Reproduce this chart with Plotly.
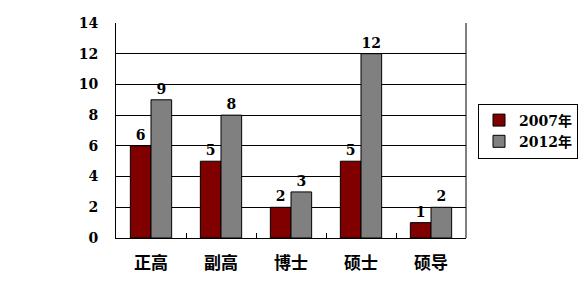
import plotly.graph_objects as go

categories = ["正高", "副高", "博士", "硕士", "硕导"]
series_2007 = [6, 5, 2, 5, 1]
series_2012 = [9, 8, 3, 12, 2]
y_ticks = [0, 2, 4, 6, 8, 10, 12, 14]

FONT = "DejaVu Serif, Noto Sans CJK SC"

fig = go.Figure()
fig.add_trace(go.Bar(
    name="2007年", x=categories, y=series_2007,
    marker=dict(color="#800000", line=dict(color="black", width=1)),
    text=series_2007, textposition="outside", cliponaxis=False,
    textfont=dict(family=FONT, size=14, color="black", weight="bold"),
))
fig.add_trace(go.Bar(
    name="2012年", x=categories, y=series_2012,
    marker=dict(color="#808080", line=dict(color="black", width=1)),
    text=series_2012, textposition="outside", cliponaxis=False,
    textfont=dict(family=FONT, size=14, color="black", weight="bold"),
))

fig.update_layout(
    width=586, height=288,
    margin=dict(l=116, r=120, t=23, b=50, autoexpand=False),
    paper_bgcolor="white", plot_bgcolor="white",
    barmode="group", bargap=0.41, bargroupgap=0,
    font=dict(family=FONT, color="black"),
    legend=dict(
        xref="container", yref="container",
        x=478 / 586, y=1 - 131 / 288, xanchor="left", yanchor="middle",
        bordercolor="black", borderwidth=1,
        font=dict(family=FONT, size=14, color="black", weight="bold"),
        itemwidth=30, tracegroupgap=0,
    ),
)
fig.update_xaxes(
    showline=True, linecolor="black", linewidth=1,
    tickson="boundaries", ticks="inside", ticklen=5, tickcolor="black",
    tickfont=dict(family="Noto Sans CJK SC", size=17, color="black", weight="bold"),
    ticklabelstandoff=10,
)
fig.update_yaxes(
    range=[0, 14], tickvals=y_ticks,
    showgrid=True, gridcolor="black", gridwidth=1,
    showline=True, linecolor="black", linewidth=1,
    tickfont=dict(family=FONT, size=14, color="black", weight="bold"),
    ticks="", ticklabelstandoff=14, zeroline=False,
)
# right border of plot area
fig.add_shape(type="line", xref="paper", yref="paper", x0=1, x1=1, y0=0, y1=1,
              line=dict(color="black", width=1))

fig.write_html("out.html")
